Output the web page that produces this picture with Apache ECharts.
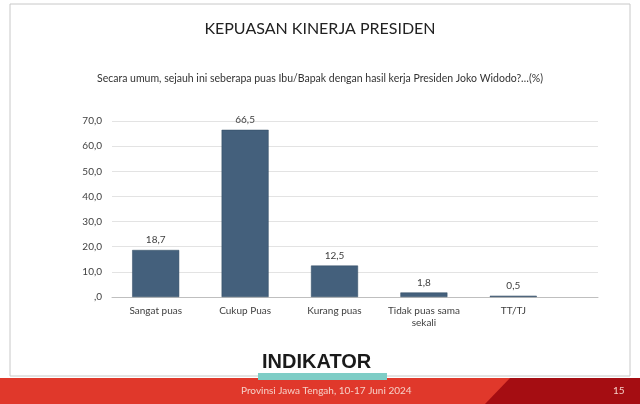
<!DOCTYPE html>
<html><head><meta charset="utf-8">
<script src="https://cdn.jsdelivr.net/npm/echarts@6/dist/echarts.min.js"></script>
<style>html,body{margin:0;padding:0;background:#fff}#c{width:640px;height:404px}</style>
</head><body><div id="c"></div>
<script>
const categories = ['Sangat puas','Cukup Puas','Kurang puas','Tidak puas sama\nsekali','TT/TJ'];
const values = [18.7, 66.5, 12.5, 1.8, 0.5];
const fmt = v => v === 0 ? ',0' : v.toFixed(1).replace('.', ',');
const chart = echarts.init(document.getElementById('c'));
chart.setOption({
  animation:false,
  grid:[{left:111,right:82,top:121,bottom:107},{left:112,right:42,top:121,bottom:107}],
  xAxis:[{type:'category',data:categories,gridIndex:0,
    axisLine:{show:false},axisTick:{show:false},
    axisLabel:{interval:0,color:'#404040',fontSize:10,fontFamily:'Lato',margin:8,lineHeight:12}},
    {type:'value',gridIndex:1,min:0,max:1,axisLabel:{show:false},axisTick:{show:false},splitLine:{show:false},
     axisLine:{lineStyle:{color:'#bfbfbf'}}}],
  yAxis:[{type:'value',min:0,max:70,interval:10,gridIndex:0,
    axisLine:{show:false},axisTick:{show:false},splitLine:{show:false},
    axisLabel:{color:'#404040',fontSize:10,fontFamily:'Lato',formatter:fmt,margin:9}},
    {type:'value',min:0,max:70,interval:10,gridIndex:1,axisLabel:{show:false},axisLine:{show:false},axisTick:{show:false},
     splitLine:{lineStyle:{color:'#e3e3e3'}}}],
  series:[{type:'bar',data:values,barWidth:47,xAxisIndex:0,yAxisIndex:0,z:3,
    itemStyle:{color:'#44607c',borderColor:'#2f4860',borderWidth:0.5},
    label:{show:true,position:'top',color:'#404040',fontSize:10,fontFamily:'Lato',formatter:p=>fmt(p.value)}}],
  graphic:[
    {type:'rect',shape:{x:10,y:4,width:620,height:372},style:{fill:'none',stroke:'#c8c8c8',lineWidth:1},z:-1},
    {type:'text',left:'center',top:21,style:{text:'KEPUASAN KINERJA PRESIDEN',fill:'#222',fontSize:16,fontFamily:'Lato'}},
    {type:'text',left:'center',top:73,style:{text:'Secara umum, sejauh ini seberapa puas Ibu/Bapak dengan hasil kerja Presiden Joko Widodo?…(%)',fill:'#333',fontSize:10.5,fontFamily:'Lato'}},
    {type:'rect',shape:{x:0,y:378,width:640,height:26},style:{fill:'#e0382b'}},
    {type:'polygon',shape:{points:[[510,378],[640,378],[640,404],[485,404]]},style:{fill:'#a50d12'}},
    {type:'rect',shape:{x:258,y:373,width:129,height:7},style:{fill:'#7ecdc6'}},
    {type:'text',x:262,y:352,style:{text:'INDIKATOR',fill:'#1a1a1a',fontSize:20,fontWeight:'bold',fontFamily:'Liberation Sans'}},
    {type:'text',x:241,y:386,style:{text:'Provinsi Jawa Tengah, 10-17 Juni 2024',fill:'#f5d0c8',fontSize:10,fontFamily:'Lato'}},
    {type:'text',x:613,y:386,style:{text:'15',fill:'#f5d0c8',fontSize:10,fontFamily:'Lato'}}
  ]
});
</script></body></html>
